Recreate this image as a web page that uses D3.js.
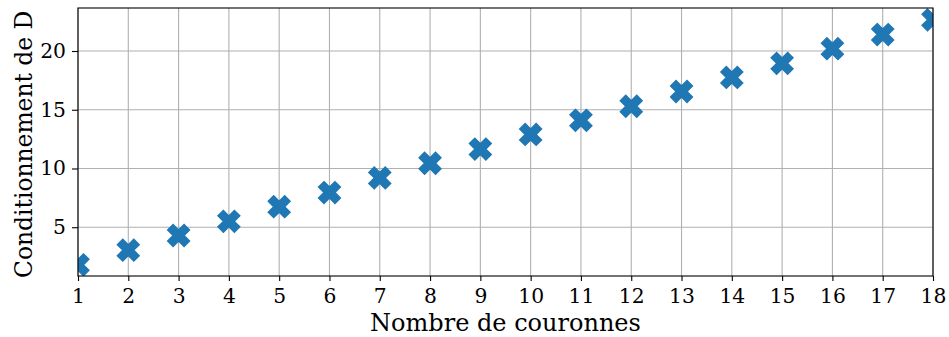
<!DOCTYPE html>
<html><head><meta charset="utf-8">
<script src="https://cdn.jsdelivr.net/npm/d3@7"></script>
<style>body{margin:0;background:#fff}svg{display:block}text{font-family:"DejaVu Serif",serif}</style>
</head><body><svg id="c" width="949" height="337"></svg>
<script>
const couronnes = [1,2,3,4,5,6,7,8,9,10,11,12,13,14,15,16,17,18];
const conditionnement = [1.8,3.05,4.3,5.5,6.75,7.95,9.2,10.45,11.65,12.9,14.1,15.3,16.55,17.75,18.95,20.2,21.4,22.65];
const xTicks = [1,2,3,4,5,6,7,8,9,10,11,12,13,14,15,16,17,18];
const yTicks = [5,10,15,20];
const xLabel = "Nombre de couronnes";
const yLabel = "Conditionnement de D";

const W=949,H=337;
const m={l:78,r:16,t:8,b:61};
const svg=d3.select("#c");
const x=d3.scaleLinear().domain([1,18]).range([m.l,W-m.r]);
const y=d3.scaleLinear().domain([0.85,23.66]).range([H-m.b,m.t]);

// grid
svg.append("g").selectAll("line").data(xTicks).join("line")
  .attr("x1",d=>x(d)).attr("x2",d=>x(d)).attr("y1",y.range()[0]).attr("y2",y.range()[1])
  .attr("stroke","#b0b0b0").attr("stroke-width",1.1);
svg.append("g").selectAll("line").data(yTicks).join("line")
  .attr("y1",d=>y(d)).attr("y2",d=>y(d)).attr("x1",x.range()[0]).attr("x2",x.range()[1])
  .attr("stroke","#b0b0b0").attr("stroke-width",1.1);

svg.append("clipPath").attr("id","clip").append("rect")
  .attr("x",m.l).attr("y",m.t).attr("width",W-m.r-m.l).attr("height",H-m.b-m.t);

const xShape={draw(ctx,size){const s=Math.sqrt(size)/4;
  const v=[[-1,-2],[0,-1],[1,-2],[2,-1],[1,0],[2,1],[1,2],[0,1],[-1,2],[-2,1],[-1,0],[-2,-1]];
  ctx.moveTo(v[0][0]*s,v[0][1]*s);for(let i=1;i<v.length;i++)ctx.lineTo(v[i][0]*s,v[i][1]*s);ctx.closePath();}};
const sym=d3.symbol().type(xShape).size(22*22);

svg.append("g").attr("clip-path","url(#clip)").selectAll("path").data(couronnes).join("path")
  .attr("d",sym).attr("transform",(d,i)=>`translate(${x(d)},${y(conditionnement[i])})`)
  .attr("fill","#1f77b4").attr("stroke","#1f77b4").attr("stroke-width",1.3).attr("stroke-linejoin","miter");

const xa=svg.append("g").attr("transform",`translate(0,${H-m.b})`)
  .call(d3.axisBottom(x).tickValues(xTicks).tickFormat(d3.format("d")).tickSize(5).tickPadding(8));
const ya=svg.append("g").attr("transform",`translate(${m.l},0)`)
  .call(d3.axisLeft(y).tickValues(yTicks).tickSize(6).tickPadding(6));
[xa,ya].forEach(a=>{a.select(".domain").remove();a.selectAll("line").attr("stroke","#000").attr("stroke-width",1.1);
  a.selectAll("text").attr("font-size",20.3).attr("fill","#000").attr("font-family","DejaVu Serif");});

svg.append("rect").attr("x",m.l).attr("y",m.t).attr("width",W-m.r-m.l).attr("height",H-m.b-m.t)
  .attr("fill","none").attr("stroke","#000").attr("stroke-width",1.1);

svg.append("text").attr("x",(m.l+W-m.r)/2).attr("y",331).attr("text-anchor","middle")
  .attr("font-size",24).text(xLabel);
svg.append("text").attr("transform",`translate(31.5,278) rotate(-90)`).attr("text-anchor","start")
  .attr("font-size",23.4).text(yLabel);
</script></body></html>
